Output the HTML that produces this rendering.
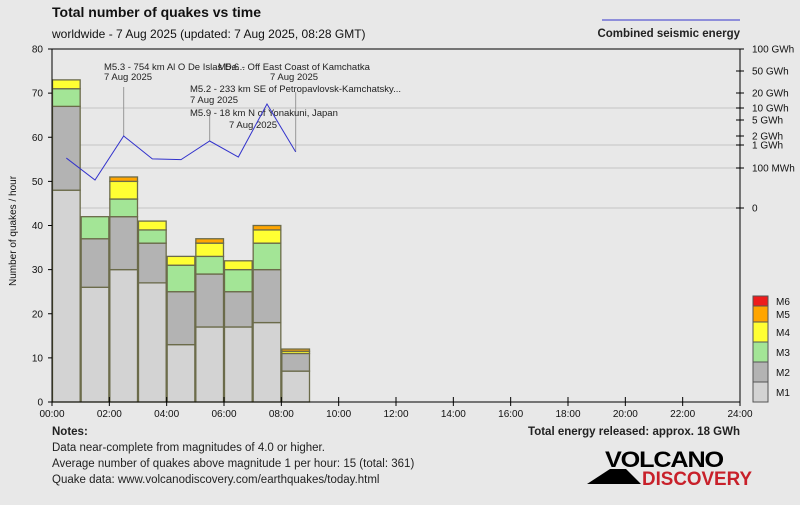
<!DOCTYPE html>
<html><head><meta charset="utf-8"><style>
body{margin:0;background:#e8e8e8;font-family:"Liberation Sans","DejaVu Sans",sans-serif;}
svg text{font-family:"Liberation Sans","DejaVu Sans",sans-serif;}
</style></head><body>
<svg id="c" width="800" height="500" xmlns="http://www.w3.org/2000/svg">
<rect width="800" height="500" fill="#e8e8e8"/>
<text x="52" y="17" font-size="14" font-weight="bold" fill="#111">Total number of quakes vs time</text>
<text x="52" y="38" font-size="12" fill="#111">worldwide -  7 Aug 2025 (updated: 7 Aug 2025, 08:28 GMT)</text>
<line x1="602" y1="20" x2="740" y2="20" stroke="#3333cc" stroke-width="1"/>
<text x="740" y="37" font-size="11.5" font-weight="bold" text-anchor="end" fill="#222">Combined seismic energy</text>
<g id="grid"></g>
<g id="bars"></g>
<g id="annot"></g>
<g id="energy"></g>
<g id="axes"></g>
<g id="legend"></g>
<text x="10" y="225" font-size="10" fill="#111" transform="rotate(-90 16 225)" text-anchor="middle">Number of quakes / hour</text>
<text x="52" y="435" font-size="11.5" font-weight="bold" fill="#222">Notes:</text>
<text x="52" y="451" font-size="11.5" fill="#222">Data near-complete from magnitudes of 4.0 or higher.</text>
<text x="52" y="467" font-size="11.5" fill="#222">Average number of quakes above magnitude 1 per hour: 15 (total: 361)</text>
<text x="52" y="483" font-size="11.5" fill="#222">Quake data: www.volcanodiscovery.com/earthquakes/today.html</text>
<text x="740" y="435" font-size="11.5" font-weight="bold" text-anchor="end" fill="#222">Total energy released: approx. 18 GWh</text>
<g>
<polygon points="587,484 610,469 626,469 641,484" fill="#000"/>
<text x="605" y="467" font-size="22" font-weight="bold" fill="#000" letter-spacing="-1" textLength="118" lengthAdjust="spacingAndGlyphs">VOLCANO</text>
<text x="642" y="485" font-size="19" font-weight="bold" fill="#c8202a" textLength="110" lengthAdjust="spacingAndGlyphs">DISCOVERY</text>
</g>
</svg>
<script>
const hours=[0,1,2,3,4,5,6,7,8];
const m1=[48,26,30,27,13,17,17,18,7];
const m2=[19,11,12,9,12,12,8,12,4];
const m3=[4,5,4,3,6,4,5,6,0];
const m4=[2,0,4,2,2,3,2,3,0.5];
const m5=[0,0,1,0,0,1,0,1,0.5];
const m6=[0,0,0,0,0,0,0,0,0];
const energyGWh=[0.27,0.05,2,0.25,0.23,1.36,0.3,12,0.5];
const yTicks=[0,10,20,30,40,50,60,70,80];
const xTickLabels=["00:00","02:00","04:00","06:00","08:00","10:00","12:00","14:00","16:00","18:00","20:00","22:00","24:00"];
const eTickVals=[100,50,20,10,5,2,1,0.1,0.01];
const eTickLabels=["100 GWh","50 GWh","20 GWh","10 GWh","5 GWh","2 GWh","1 GWh","100 MWh","0"];
const eTickPix=[49,71,93,108,120,136,145,168,208];
const annHours=[2,5,8];
const annText=[["M5.3 - 754 km Al O De Islas De...","7 Aug 2025"],["M5.2 - 233 km SE of Petropavlovsk-Kamchatsky...","7 Aug 2025","M5.9 - 18 km N of Yonakuni, Japan","7 Aug 2025"],["M5.6 - Off East Coast of Kamchatka","7 Aug 2025"]];

const X0=52,X1=740,Y0=402,Y1=49;
const xs=h=>X0+(X1-X0)*h/24;
const ys=v=>Y0-(Y0-Y1)*v/80;
function ye(g){for(let i=0;i<eTickVals.length-1;i++){const a=eTickVals[i],b=eTickVals[i+1];if(g<=a&&g>=b){const f=(Math.log10(a)-Math.log10(g))/(Math.log10(a)-Math.log10(b));return eTickPix[i]+f*(eTickPix[i+1]-eTickPix[i]);}}return 208;}
const NS="http://www.w3.org/2000/svg";
function mk(t,p,a){const e=document.createElementNS(NS,t);for(const k in a)e.setAttribute(k,a[k]);p.appendChild(e);return e;}
const grid=document.getElementById('grid'),bars=document.getElementById('bars'),axes=document.getElementById('axes'),en=document.getElementById('energy'),an=document.getElementById('annot'),lg=document.getElementById('legend');
[3,6,7,8].forEach(i=>{const l=mk('line',grid,{x1:X0,x2:X1,y1:eTickPix[i],y2:eTickPix[i],stroke:'#d0d0d0','stroke-width':1.5});

});
const series=[m1,m2,m3,m4,m5,m6];
const cols=['#d3d3d3','#b3b3b3','#a3e596','#ffff33','#ffa500','#ee1c1c'];
const names=['m1','m2','m3','m4','m5','m6'];
hours.forEach((h,i)=>{let c=0;series.forEach((s,k)=>{if(s[i]<=0)return;const r=mk('rect',bars,{x:xs(h)+0.5,width:xs(1)-X0-1,y:ys(c+s[i]),height:ys(c)-ys(c+s[i]),fill:cols[k],stroke:'#6b6b4a','stroke-width':1.3});

c+=s[i];});});
annHours.forEach((h,i)=>{const x=xs(h+0.5),yt=ye(energyGWh[h]);const ystart=[87,115,92][i];
const l=mk('line',an,{x1:x,x2:x,y1:ystart,y2:yt,stroke:'#999','stroke-width':1});

});
const tpos=[[104,70,104,80],[190,92,190,103,190,116,229,128],[218,70,270,80]];
annText.forEach((arr,i)=>{arr.forEach((s,j)=>{const t=mk('text',an,{x:tpos[i][j*2],y:tpos[i][j*2+1],'font-size':9.5,fill:'#222'});t.textContent=s;

});});
let d='';hours.forEach((h,i)=>{d+=(i?'L':'M')+xs(h+0.5)+' '+ye(energyGWh[i]);});
const p=mk('path',en,{d:d,fill:'none',stroke:'#3333cc','stroke-width':1});


mk('line',axes,{x1:X0,x2:X0,y1:Y1,y2:Y0,stroke:'#000'});
mk('line',axes,{x1:X0,x2:X1,y1:Y0,y2:Y0,stroke:'#000'});
mk('line',axes,{x1:X1,x2:X1,y1:Y1,y2:Y0,stroke:'#000'});
mk('line',axes,{x1:X0,x2:X1,y1:Y1,y2:Y1,stroke:'#000'});
yTicks.forEach(v=>{mk('line',axes,{x1:X0-4,x2:X0,y1:ys(v),y2:ys(v),stroke:'#000'});const t=mk('text',axes,{x:X0-9,y:ys(v)+3.5,'font-size':10,'text-anchor':'end',fill:'#111'});t.textContent=v;

});
xTickLabels.forEach((s,i)=>{const x=xs(i*2);mk('line',axes,{x1:x,x2:x,y1:Y0-5,y2:Y0+4,stroke:'#000'});const t=mk('text',axes,{x:x,y:Y0+15,'font-size':10,'text-anchor':'middle',fill:'#111'});t.textContent=s;

});
eTickLabels.forEach((s,i)=>{const y=eTickPix[i];mk('line',axes,{x1:X1-4,x2:X1+4,y1:y,y2:y,stroke:'#000'});const t=mk('text',axes,{x:X1+12,y:y+3.5,'font-size':10,fill:'#111'});t.textContent=s;

});
const lgY=[[382,402],[362,382],[342,362],[322,342],[306,322],[296,306]];
const lgN=['M1','M2','M3','M4','M5','M6'];
lgN.forEach((n,k)=>{const r=mk('rect',lg,{x:753,y:lgY[k][0],width:15,height:lgY[k][1]-lgY[k][0],fill:cols[k],stroke:'#555','stroke-width':1});


const t=mk('text',lg,{x:776,y:(lgY[k][0]+lgY[k][1])/2+4,'font-size':10,fill:'#111'});t.textContent=n;

});
</script>
</body></html>
